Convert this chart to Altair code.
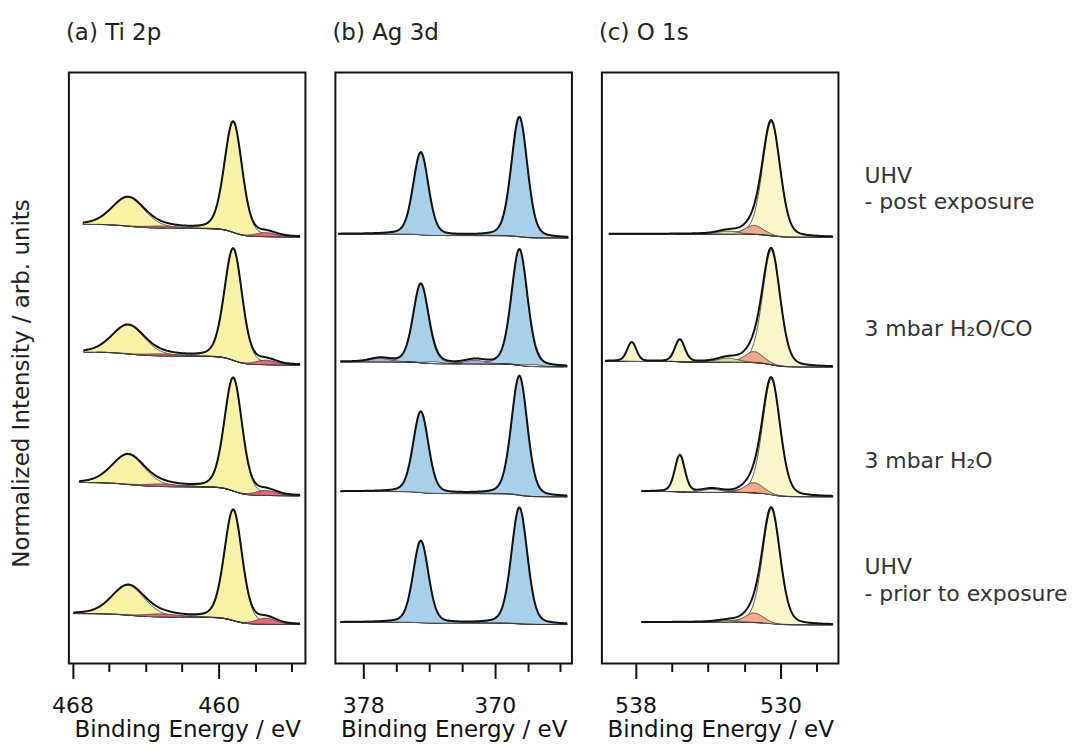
import numpy as np
import pandas as pd
import altair as alt

# ---------------------------------------------------------------- settings
FONT = "DejaVu Sans"
STEP = 0.04          # energy grid of the drawn fit curves (eV)
ETA = 0.25           # Lorentzian fraction of the pseudo-Voigt fit components
Y_DOMAIN = [5, 597]  # normalised intensity range shown in every panel (arb. units)
PLOT_H = 592
PLOT_W = 237

PANEL_TITLES = ["(a) Ti 2p", "(b) Ag 3d", "(c) O 1s"]
X_DOMAINS = [[468.2, 455.25], [379.7, 365.3], [539.85, 526.8]]
MAJOR_TICKS = [[468, 460], [378, 370], [538, 530]]
MINOR_TICKS = [[466, 464, 462, 458, 456], [376, 374, 372, 368, 366], [536, 534, 532, 528]]

# spectra, top to bottom
CONDITION_LINES = ["UHV", "- post exposure", "3 mbar H\u2082O/CO", "3 mbar H\u2082O",
                   "UHV", "- prior to exposure"]
CONDITION_Y = [486, 460, 333, 201, 95, 68]

# ---------------------------------------------------------------- (a) Ti 2p
A_START = [467.45, 467.40, 467.66, 467.95]
A_END = [455.55, 455.55, 455.55, 455.55]
A_BASE_HIGH = [445.0, 317.0, 186.3, 55.0]
A_BASE_LOW = [432.3, 304.0, 173.0, 44.0]
A_CENTRES = [459.2, 464.95, 457.4, 463.1]
A_FWHM = [1.15, 2.1, 1.3, 2.1]
A_HEIGHTS = [[111, 112, 113.5, 111],
             [29, 29, 30, 30],
             [4, 4.5, 5, 6],
             [2, 2, 2.5, 3]]
A_FILLS = ["#f7f2a6", "#f7f2a6", "#e8667c", "#e8667c"]
A_Z = [0, 0, 1, 1]

# ---------------------------------------------------------------- (b) Ag 3d
B_START = [379.53, 379.42, 379.42, 379.42]
B_END = [365.53, 365.59, 365.59, 365.59]
B_BASE_HIGH = [435.3, 307.3, 177.3, 46.3]
B_BASE_LOW = [431.3, 302.3, 172.0, 44.0]
B_CENTRES = [368.5, 374.5, 377.0, 371.2, 373.7, 367.7]
B_FWHM = [1.15, 1.1, 1.4, 1.4, 1.0, 1.1]
B_HEIGHTS = [[120, 115.7, 119.5, 116.5],
             [82.5, 78.8, 81, 82],
             [0, 3.5, 0, 0],
             [0, 3.5, 0, 0],
             [0, 2, 0, 0],
             [0, 2, 0, 0]]
B_FILLS = ["#a9d0ea", "#a9d0ea", "#b3acd9", "#b3acd9", "#f3f3fa", "#f3f3fa"]
B_Z = [0, 0, 1, 1, 1, 1]

# ---------------------------------------------------------------- (c) O 1s
C_START = [539.5, 539.69, 537.67, 537.67]
C_END = [527.11, 527.11, 527.11, 527.11]
C_BASE_HIGH = [435.3, 308.0, 177.3, 46.3]
C_BASE_LOW = [432.0, 302.0, 172.0, 43.7]
C_CENTRES = [530.5, 531.45, 532.9, 535.55, 538.2, 533.8]
C_FWHM = [1.15, 1.2, 1.3, 0.65, 0.6, 1.2]
C_HEIGHTS = [[114, 114.7, 115.7, 114.7],
             [9, 11, 10, 9.5],
             [3, 4, 0, 1.5],
             [0, 22, 36.7, 0],
             [0, 19, 0, 0],
             [0, 0, 3, 0]]
C_FILLS = ["#faf6cc", "#f2a98c", "#d9dc88", "#faf6cc", "#faf6cc", "#f4f4f0"]
C_Z = [0, 1, 1, 0, 0, 1]

PANELS = [
    (A_START, A_END, A_BASE_HIGH, A_BASE_LOW, A_CENTRES, A_FWHM, A_HEIGHTS, A_FILLS, A_Z),
    (B_START, B_END, B_BASE_HIGH, B_BASE_LOW, B_CENTRES, B_FWHM, B_HEIGHTS, B_FILLS, B_Z),
    (C_START, C_END, C_BASE_HIGH, C_BASE_LOW, C_CENTRES, C_FWHM, C_HEIGHTS, C_FILLS, C_Z),
]


def component(E, c, h, w):
    d = (E - c) / w
    return h * ((1 - ETA) * np.exp(-4 * np.log(2) * d * d) + ETA / (1 + 4 * d * d))


def build(start, end, hi, lo, centres, fwhm, heights, fills, zs):
    comp_rows, env_rows = [], []
    for s in range(len(start)):
        E = np.arange(end[s], start[s] + 1e-9, STEP)
        comps = [component(E, centres[k], heights[k][s], fwhm[k]) for k in range(len(centres))]
        total = np.sum(comps, axis=0)
        cum = np.concatenate([[0.0], np.cumsum(0.5 * (total[1:] + total[:-1]) * np.diff(E))])
        bg = lo[s] + (hi[s] - lo[s]) * cum / cum[-1]   # Shirley-type background
        env = bg + total
        for e, b, v in zip(E, bg, env):
            env_rows.append({"spec": s, "E": round(e, 3), "bg": round(b, 2), "env": round(v, 2)})
        for k, cv in enumerate(comps):
            if heights[k][s] <= 0:
                continue
            mask = cv > 0.04
            for e, b, v in zip(E[mask], bg[mask], cv[mask]):
                comp_rows.append({"key": f"{s}-{k}", "E": round(e, 3), "bot": round(b, 2),
                                  "top": round(b + v, 2), "fill": fills[k], "z": zs[k]})
    return pd.DataFrame(comp_rows), pd.DataFrame(env_rows)


def make_panel(i):
    comp_df, env_df = build(*PANELS[i])
    major = MAJOR_TICKS[i]
    test = f"indexof({major}, datum.value) >= 0"
    xaxis = alt.Axis(
        values=major + MINOR_TICKS[i],
        labelExpr=f"{test} ? datum.label : ''",
        tickSize={"condition": {"test": test, "value": 15}, "value": 8},
        tickWidth=2, tickColor="#111", domain=False, grid=False,
        labelFont=FONT, labelFontSize=22, labelColor="#111", labelPadding=17,
        title="Binding Energy / eV", titleFont=FONT, titleFontSize=23,
        titleFontWeight="normal", titleColor="#111", titlePadding=2,
    )
    xenc = alt.X("E:Q", scale=alt.Scale(domain=X_DOMAINS[i], nice=False, zero=False), axis=xaxis)
    if i == 0:
        yaxis = alt.Axis(title="Normalized Intensity / arb. units", labels=False, ticks=False,
                         domain=False, grid=False, titleFont=FONT, titleFontSize=23,
                         titleFontWeight="normal", titleColor="#222", titlePadding=35,
                         titleY=311)
    else:
        yaxis = None
    yscale = alt.Scale(domain=Y_DOMAIN, nice=False, zero=False)

    def yenc(field):
        return alt.Y(f"{field}:Q", scale=yscale, axis=yaxis, stack=None)

    bg_line = alt.Chart(env_df).mark_line(color="#222", strokeWidth=1).encode(
        x=xenc, y=yenc("bg"), detail="spec:N")
    layers = [bg_line]
    for z in (0, 1):
        sub = comp_df[comp_df["z"] == z]
        if len(sub):
            layers.append(alt.Chart(sub).mark_area(stroke="#333", strokeWidth=0.8, opacity=1).encode(
                x=xenc, y=yenc("top"), y2="bot:Q",
                color=alt.Color("fill:N", scale=None), detail="key:N"))
    layers.append(alt.Chart(env_df).mark_line(color="#111", strokeWidth=2).encode(
        x=xenc, y=yenc("env"), detail="spec:N"))
    if i == 2:
        lab = pd.DataFrame({"text": CONDITION_LINES, "y": CONDITION_Y})
        layers.append(alt.Chart(lab).mark_text(align="left", baseline="alphabetic", font=FONT,
                                               fontSize=22, color="#333").encode(
            x=alt.value(263), y=yenc("y"), text="text:N"))
    return alt.layer(*layers).properties(
        width=PLOT_W, height=PLOT_H,
        title=alt.TitleParams(PANEL_TITLES[i], anchor="start", frame="group", font=FONT,
                              fontSize=23, fontWeight="normal", color="#222", offset=28, dx=-3),
    )


chart = alt.hconcat(make_panel(0), make_panel(1), make_panel(2), spacing=30,
                    bounds="flush").properties(
    padding={"left": 2, "top": 12, "right": 0, "bottom": 0}
).configure_view(stroke="#111", strokeWidth=2)

chart.save("out.html", embed_options={"renderer": "svg", "actions": False})
